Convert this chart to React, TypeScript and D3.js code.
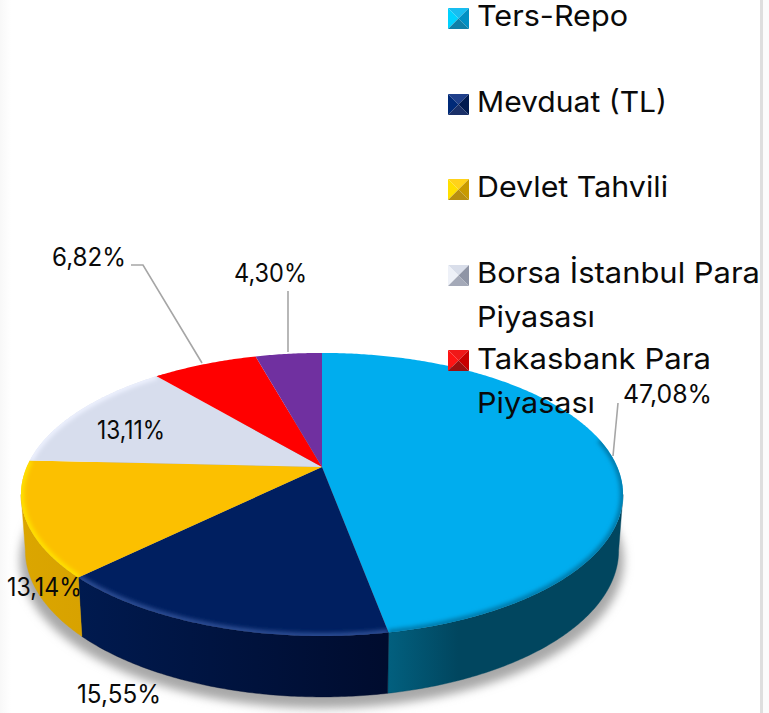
import React from "react";
import * as d3 from "d3";

const categories = ["Ters-Repo", "Mevduat (TL)", "Devlet Tahvili", "Borsa İstanbul Para Piyasası", "Takasbank Para Piyasası", "Diğer"];
const values = [47.08, 15.55, 13.14, 13.11, 6.82, 4.3];
const valueLabels = ["47,08%", "15,55%", "13,14%", "13,11%", "6,82%", "4,30%"];
const topColors = ["#00adee", "#001f60", "#fcc000", "#d7dded", "#ff0000", "#7030a0"];
const rimColors = ["#0078a8", "#2f4f96", "#ffe300", "#eef2ff", "#ff0000", "#7030a0"];
const wallStart = ["#02607f", "#001a4f", "#dba600", "#b0b5c5", "#b00000", "#4c2070"];
const wallEnd = ["#01465f", "#000c2e", "#d8a200", "#b0b5c5", "#b00000", "#4c2070"];
const keyTop = ["#18bdf0", "#1f3f8a", "#ffd21a", "#d9deea", "#f01818", "#7030a0"];
const keyLeft = ["#00d2ff", "#002a78", "#ffdf00", "#eef1f8", "#ff1414", "#7030a0"];
const keyRight = ["#0090c4", "#001a50", "#c89a00", "#8f95a6", "#c80000", "#7030a0"];
const keyBottom = ["#0f80a8", "#1a3068", "#b88f10", "#a4a9b8", "#9c1010", "#7030a0"];

const legendRows = [
  { key: 0, lines: ["Ters-Repo"], box: 8, base: [26] },
  { key: 1, lines: ["Mevduat (TL)"], box: 94, base: [112] },
  { key: 2, lines: ["Devlet Tahvili"], box: 179, base: [197] },
  { key: 3, lines: ["Borsa İstanbul Para", "Piyasası"], box: 265, base: [283, 327] },
  { key: 4, lines: ["Takasbank Para", "Piyasası"], box: 350, base: [369, 413] },
];
const legendWidths: Record<string, number> = {
  "Ters-Repo": 150, "Mevduat (TL)": 189, "Devlet Tahvili": 190,
  "Borsa İstanbul Para": 282, "Piyasası": 117, "Takasbank Para": 233,
};
const labelSpots = [
  { x: 623, y: 403, w: 89 }, { x: 77, y: 703, w: 84 }, { x: 7, y: 596, w: 75 },
  { x: 97, y: 439, w: 68 }, { x: 52, y: 266, w: 74 }, { x: 234, y: 282, w: 73 },
];
const leaders = [
  [[618, 403], [613, 456]],
  [[131, 265], [143, 265], [202, 363]],
  [[288, 291], [288, 352]],
];

const FONT = "Inter, 'Noto Sans', sans-serif";
const cx = 322, k = 0.194;
const project = (p: { y0: number; A: number; B: number }, t: number): [number, number] => {
  const u = Math.sin(t), v = -Math.cos(t), w = 1 - k * v;
  return [cx + (p.B * u) / w, p.y0 + (p.A * v) / w];
};
const top = { y0: 467, A: 136.2, B: 295.3 };
const bottom = { y0: 522, A: 141, B: 291 };
const sweep = (a: number, b: number) => {
  const n = Math.max(2, Math.ceil(Math.abs(b - a) / 0.01));
  return d3.range(n + 1).map((i) => a + ((b - a) * i) / n);
};
const line = d3.line();
const rad = (deg: number) => (deg * Math.PI) / 180;
const TL = rad(101.2), TR = rad(258.8);
// part of the rim that catches the bevel shading
const rimFrom = rad(78), rimTo = rad(322);

export default function App() {
  const arcs = d3.pie<number>().sort(null).startAngle(0).endAngle(2 * Math.PI)(values);
  const whole = sweep(0, 2 * Math.PI);
  const shadowPath = line(whole.map((t) => project({ y0: 532, A: 142, B: 296 }, t))) + "Z";
  return (
    <svg width={769} height={713} style={{ position: "absolute", left: 0, top: 0, fontFamily: FONT }}>
      <defs>
        <filter id="soft" x="-10%" y="-10%" width="120%" height="120%"><feGaussianBlur stdDeviation="5" /></filter>
        <filter id="rim" x="-10%" y="-10%" width="120%" height="120%"><feGaussianBlur stdDeviation="2.2" /></filter>
        <linearGradient id="edgeL" x1="0" x2="1"><stop offset="0" stopColor="#f8f8f8" /><stop offset="1" stopColor="#fff" /></linearGradient>
        {arcs.map((a, i) => (
          <linearGradient key={i} id={`w${i}`} x1="0" x2="1">
            <stop offset="0" stopColor={wallStart[i]} />
            <stop offset={i === 0 ? "0.3" : "1"} stopColor={wallEnd[i]} />
            <stop offset="1" stopColor={wallEnd[i]} />
          </linearGradient>
        ))}
        {arcs.map((a, i) => {
          const pts = sweep(a.startAngle, a.endAngle).map((t) => project(top, t));
          return <clipPath key={i} id={`c${i}`}><path d={line([[cx, top.y0], ...pts])! + "Z"} /></clipPath>;
        })}
      </defs>
      <rect x={0} y={0} width={769} height={713} fill="#fff" />
      <rect x={0} y={0} width={11} height={713} fill="url(#edgeL)" />
      <rect x={760} y={0} width={3} height={713} fill="#dedede" />
      <rect x={763} y={0} width={6} height={713} fill="#fbfbfb" />

      <path d={shadowPath} fill="#a8a8a8" filter="url(#soft)" />

      {arcs.map((a, i) => {
        const s = Math.max(a.startAngle, TL), e = Math.min(a.endAngle, TR);
        if (e <= s) return null;
        const ts = sweep(s, e);
        const d = line([...ts.map((t) => project(top, t)), ...ts.slice().reverse().map((t) => project(bottom, t))])! + "Z";
        return <path key={i} d={d} fill={`url(#w${i})`} stroke={wallEnd[i]} strokeWidth={0.4} />;
      })}

      {arcs.map((a, i) => {
        const pts = sweep(a.startAngle, a.endAngle).map((t) => project(top, t));
        const rs = Math.max(a.startAngle, rimFrom), re = Math.min(a.endAngle, rimTo);
        return (
          <g key={i}>
            <path d={line([[cx, top.y0], ...pts])! + "Z"} fill={topColors[i]} />
            {re > rs && (
              <g clipPath={`url(#c${i})`}>
                <path d={line(sweep(rs, re).map((t) => project(top, t)))!} fill="none" stroke={rimColors[i]} strokeWidth={6} filter="url(#rim)" />
              </g>
            )}
          </g>
        );
      })}

      {leaders.map((l, i) => (
        <path key={i} d={line(l as [number, number][])!} fill="none" stroke="#a6a6a6" strokeWidth={1.6} />
      ))}
      {valueLabels.map((t, i) => (
        <text key={i} x={labelSpots[i].x} y={labelSpots[i].y} fontSize={25} fill="#0a0a0a"
          textLength={labelSpots[i].w} lengthAdjust="spacingAndGlyphs">{t}</text>
      ))}

      {legendRows.map((r) => {
        const x0 = 448, S = 21, y0 = r.box, m = S / 2;
        const poly = (p: number[][]) => line(p as [number, number][])! + "Z";
        const mx = x0 + m, my = y0 + m;
        return (
          <g key={r.key}>
            <path d={poly([[x0, y0], [x0 + S, y0], [mx, my]])} fill={keyTop[r.key]} />
            <path d={poly([[x0, y0], [x0, y0 + S], [mx, my]])} fill={keyLeft[r.key]} />
            <path d={poly([[x0 + S, y0], [x0 + S, y0 + S], [mx, my]])} fill={keyRight[r.key]} />
            <path d={poly([[x0, y0 + S], [x0 + S, y0 + S], [mx, my]])} fill={keyBottom[r.key]} />
            {r.lines.map((t, j) => (
              <text key={j} x={477} y={r.base[j]} fontSize={29} fill="#0a0a0a"
                textLength={legendWidths[t] + 1} lengthAdjust="spacingAndGlyphs">{t}</text>
            ))}
          </g>
        );
      })}
    </svg>
  );
}
